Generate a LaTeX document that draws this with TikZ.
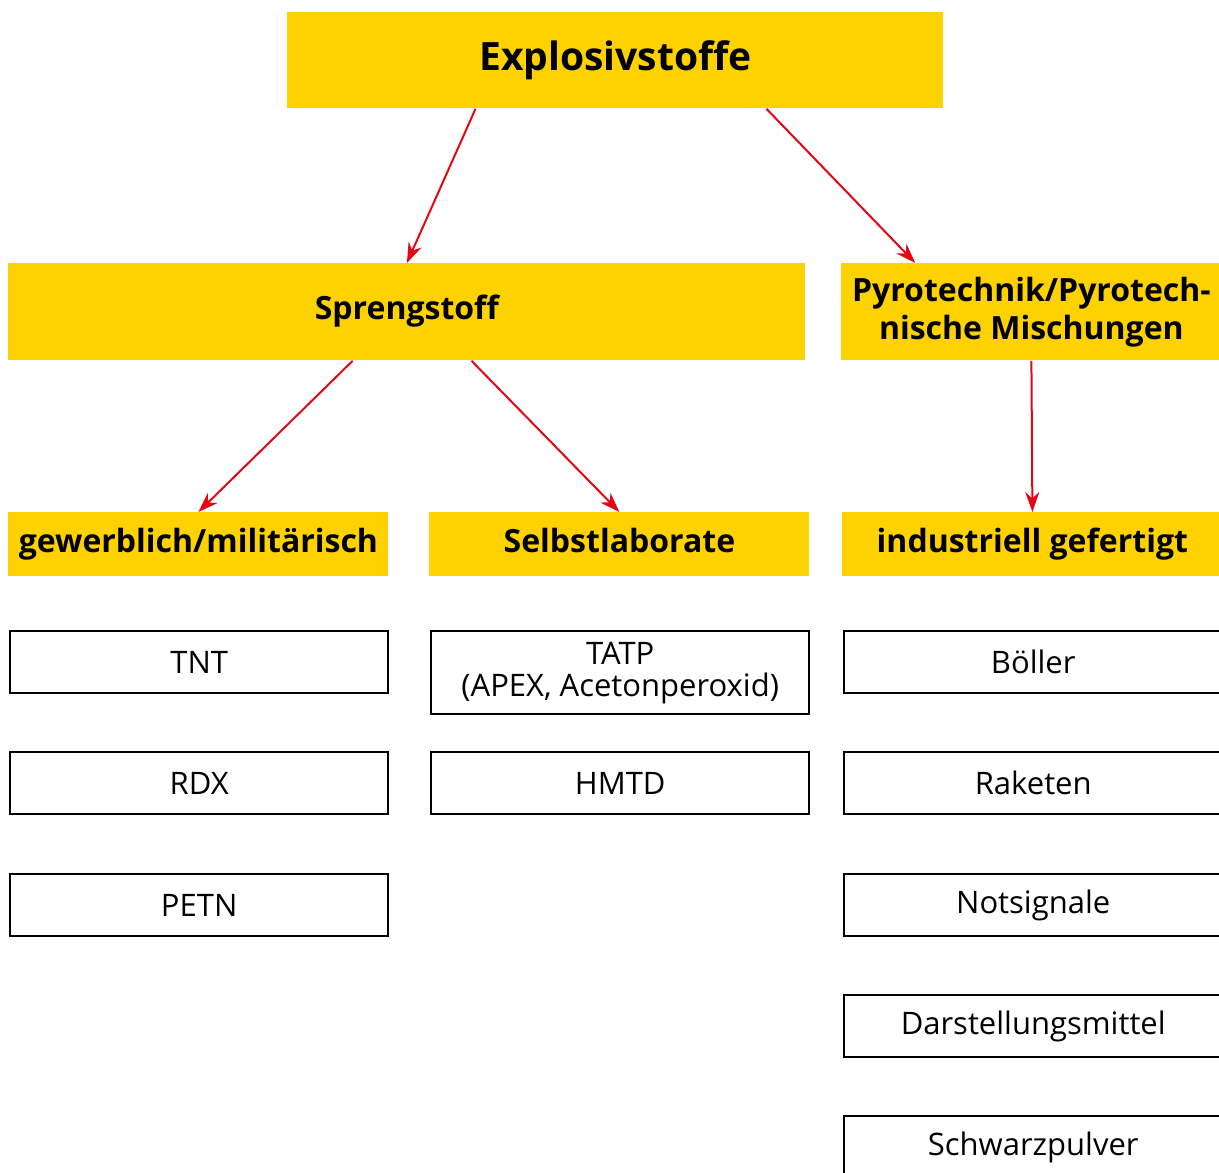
\documentclass[tikz,border=0pt]{standalone}
\usepackage{fontspec}
\setmainfont{Open Sans}
\usetikzlibrary{arrows.meta,calc}
\definecolor{gelb}{HTML}{FDD200}
\definecolor{rot}{HTML}{E30613}
\begin{document}
\begin{tikzpicture}[
  x=0.5pt, y=-0.5pt,
  kopf/.style={fill=gelb, font=\bfseries\fontsize{16}{19}\selectfont, align=center, inner sep=0pt, anchor=north west, text height=11.5pt, text depth=3.5pt},
  stoff/.style={draw, line width=1.2pt, font=\fontsize{15.5}{16}\selectfont, align=center, inner sep=0pt, anchor=north west, minimum width=189pt, minimum height=31pt},
  pfeil/.style={draw=rot, line width=1pt, -{Stealth[length=10pt,width=7pt]}}
]
  \useasboundingbox (0,0) rectangle (1219,1172);
  \clip (0,0) rectangle (1219,1172);

  % obere Ebenen
  \node[kopf, minimum width=328pt, minimum height=48pt, font=\bfseries\fontsize{19.5}{22}\selectfont, text height=14pt, text depth=4pt] (explo) at (287,12) {Explosivstoffe};
  \node[kopf, minimum width=398.5pt, minimum height=48.5pt] (spreng) at (8,263) {Sprengstoff};
  \node[kopf, minimum width=190pt, minimum height=48.5pt, text height=, text depth=] (pyro) at (841,263) {Pyrotechnik/Pyrotech-\\nische Mischungen};
  \node[kopf, minimum width=190pt, minimum height=32pt] (gewerb) at (8,512) {gewerblich/militärisch};
  \node[kopf, minimum width=190pt, minimum height=32pt] (selbst) at (429,512) {Selbstlaborate};
  \node[kopf, minimum width=190pt, minimum height=32pt] (indust) at (842,512) {industriell gefertigt};

  % Stoffe
  \node[stoff] (tnt) at (9,630) {TNT};
  \node[stoff] (rdx) at (9,751) {RDX};
  \node[stoff] (petn) at (9,873) {PETN};
  \node[stoff, minimum height=41.5pt] (tatp) at (430,630) {TATP\\(APEX, Acetonperoxid)};
  \node[stoff] (hmtd) at (430,751) {HMTD};
  \node[stoff] (boeller) at (843,630) {Böller};
  \node[stoff] (raketen) at (843,751) {Raketen};
  \node[stoff] (notsig) at (843,873) {Notsignale};
  \node[stoff] (darst) at (843,994) {Darstellungsmittel};
  \node[stoff] (schwarz) at (843,1115) {Schwarzpulver};

  % Pfeile
  \draw[pfeil] ($(explo.south west)!0.287!(explo.south east)$) -- (spreng.north);
  \draw[pfeil] ($(explo.south west)!0.730!(explo.south east)$) -- ($(pyro.north west)!0.195!(pyro.north east)$);
  \draw[pfeil] ($(spreng.south west)!0.432!(spreng.south east)$) -- (gewerb.north);
  \draw[pfeil] ($(spreng.south west)!0.581!(spreng.south east)$) -- (selbst.north);
  \draw[pfeil] (pyro.south) -- (indust.north);
\end{tikzpicture}
\end{document}
